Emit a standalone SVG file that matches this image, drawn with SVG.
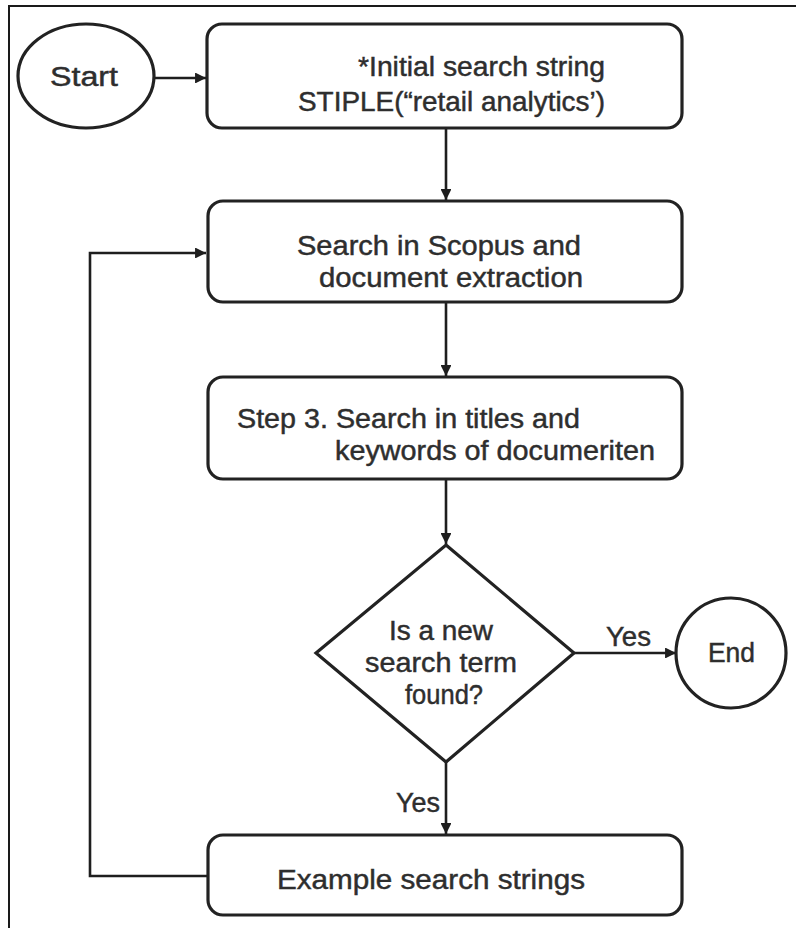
<svg xmlns="http://www.w3.org/2000/svg" width="796" height="928" viewBox="0 0 796 928">
  <style>
    .shape { fill: #ffffff; stroke: #222222; stroke-width: 3.2; }
    .frame { fill: none; stroke: #1a1a1a; stroke-width: 2; }
    .wire { fill: none; stroke: #1e1e1e; stroke-width: 2.6; }
    .lbl { font-family: "Liberation Sans", Arial, Helvetica, sans-serif; font-size: 27px; fill: #2e2e2e; stroke: #2e2e2e; stroke-width: 0.45; }
  </style>
  <defs>
    <marker id="arrow" viewBox="0 0 10 10" refX="10" refY="5" markerWidth="4.2" markerHeight="4.2" markerUnits="strokeWidth" orient="auto">
      <path d="M0,0 L10,5 L0,10 Z" fill="#1e1e1e"/>
    </marker>
  </defs>

  <rect x="0" y="0" width="796" height="928" fill="#ffffff"/>

  <!-- outer frame (left and top edges only) -->
  <path class="frame" d="M9,928 V6 H796"/>

  <!-- connectors -->
  <g id="connectors">
    <path class="wire" d="M154,78 H206" marker-end="url(#arrow)"/>
    <path class="wire" d="M446,128 V200" marker-end="url(#arrow)"/>
    <path class="wire" d="M446,302 V376" marker-end="url(#arrow)"/>
    <path class="wire" d="M446,479 V544" marker-end="url(#arrow)"/>
    <path class="wire" d="M574,653 H676" marker-end="url(#arrow)"/>
    <path class="wire" d="M446,762 V834" marker-end="url(#arrow)"/>
    <path class="wire" d="M208,876 H90 V253 H206" marker-end="url(#arrow)"/>
    <text class="lbl" x="606" y="646" textLength="45" lengthAdjust="spacingAndGlyphs" font-size="26">Yes</text>
    <text class="lbl" x="396" y="812" textLength="44" lengthAdjust="spacingAndGlyphs" font-size="26">Yes</text>
  </g>

  <g id="start">
    <ellipse class="shape" cx="86" cy="76" rx="68" ry="52"/>
    <text class="lbl" x="50" y="86" textLength="68" lengthAdjust="spacingAndGlyphs" font-size="28">Start</text>
  </g>

  <g id="initial-search-string">
    <rect class="shape" x="207" y="24" width="475" height="104" rx="15"/>
    <text class="lbl" x="358" y="76" textLength="247" lengthAdjust="spacingAndGlyphs">*Initial search string</text>
    <text class="lbl" x="298" y="111" textLength="307" lengthAdjust="spacingAndGlyphs">STIPLE(“retail analytics’)</text>
  </g>

  <g id="scopus-search">
    <rect class="shape" x="208" y="201" width="474" height="101" rx="15"/>
    <text class="lbl" x="297" y="255" textLength="284" lengthAdjust="spacingAndGlyphs">Search in Scopus and</text>
    <text class="lbl" x="319" y="287" textLength="264" lengthAdjust="spacingAndGlyphs">document extraction</text>
  </g>

  <g id="title-keyword-search">
    <rect class="shape" x="208" y="377" width="474" height="102" rx="15"/>
    <text class="lbl" x="237" y="428" textLength="343" lengthAdjust="spacingAndGlyphs">Step 3. Search in titles and</text>
    <text class="lbl" x="335" y="460" textLength="320" lengthAdjust="spacingAndGlyphs">keywords of documeriten</text>
  </g>

  <g id="new-term-decision">
    <polygon class="shape" points="446,545 574,653 446,762 316,653"/>
    <text class="lbl" x="389" y="640" textLength="104" lengthAdjust="spacingAndGlyphs">Is a new</text>
    <text class="lbl" x="365" y="672" textLength="152" lengthAdjust="spacingAndGlyphs">search term</text>
    <text class="lbl" x="405" y="704" textLength="78" lengthAdjust="spacingAndGlyphs">found?</text>
  </g>

  <g id="end">
    <circle class="shape" cx="731" cy="653" r="55"/>
    <text class="lbl" x="708" y="662" textLength="47" lengthAdjust="spacingAndGlyphs">End</text>
  </g>

  <g id="example-search-strings">
    <rect class="shape" x="208" y="835" width="474" height="80" rx="15"/>
    <text class="lbl" x="277" y="889" textLength="308" lengthAdjust="spacingAndGlyphs">Example search strings</text>
  </g>
</svg>
